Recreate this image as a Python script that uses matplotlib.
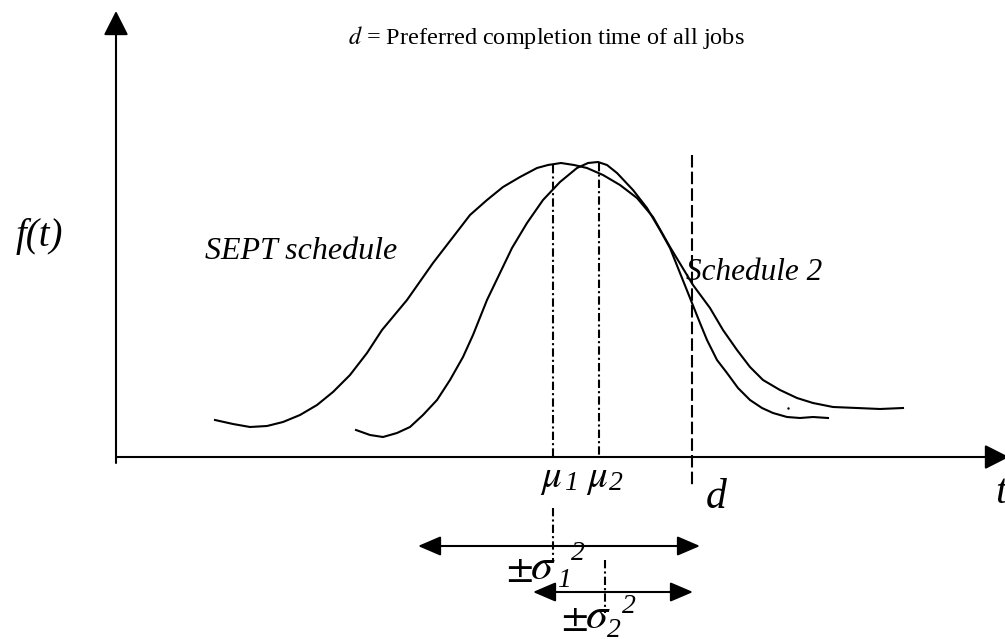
import matplotlib
matplotlib.use('Agg')
import matplotlib.pyplot as plt

plt.rcParams['font.family'] = ['Liberation Serif', 'DejaVu Serif']
plt.rcParams['mathtext.fontset'] = 'stix'

# Curves (pixel-like units, y grows downward)
sept_x = [215, 233, 250, 267, 283, 300, 317, 333, 350, 367, 382, 407, 433,
          460, 470, 487, 503, 520, 537, 548, 561, 574, 587, 603, 620, 637, 653,
          670, 693, 710, 723, 737, 750, 763, 780, 797, 813, 833, 857, 880, 903]
sept_y = [420, 424, 427, 426, 422, 415, 405, 392, 375, 353, 330, 300, 263,
          228, 215, 200, 187, 177, 168, 165, 163, 165, 168, 175, 185, 198, 217,
          247, 285, 308, 330, 350, 367, 380, 390, 398, 403, 407, 408, 409, 408]

sched2_x = [356, 370, 383, 397, 410, 423, 437, 450, 463, 473, 487, 512, 527,
            543, 560, 577, 588, 598, 607, 617, 633, 647, 660, 670, 692, 700,
            707, 717, 727, 738, 750, 762, 773, 787, 800, 813, 828]
sched2_y = [430, 435, 437, 433, 427, 415, 400, 380, 357, 335, 300, 248, 223,
            200, 182, 168, 163, 162, 165, 173, 190, 208, 230, 248, 303, 323,
            340, 360, 373, 388, 400, 408, 413, 417, 418, 417, 418]

# Marker positions
mu1, mu2, d_pos = 553, 599, 692
axis_x0, axis_y0 = 116, 457
sigma1_span = (418, 700)
sigma2_span = (533, 693)
sigma1_y, sigma2_y = 546, 592

fig = plt.figure(figsize=(10.05, 6.39), dpi=100)
ax = fig.add_axes([0, 0, 1, 1])
ax.set_xlim(0, 1005)
ax.set_ylim(639, 0)
ax.axis('off')

lw = 1.5
head = '-|>,head_length=0.75,head_width=0.38'
# axes with arrows
ax.annotate('', xy=(axis_x0, 11), xytext=(axis_x0, 463),
            arrowprops=dict(arrowstyle=head, mutation_scale=20, color='black',
                            lw=lw, shrinkA=0, shrinkB=0),
            annotation_clip=False)
ax.annotate('', xy=(1009, axis_y0), xytext=(axis_x0, axis_y0),
            arrowprops=dict(arrowstyle=head, mutation_scale=20, color='black',
                            lw=lw, shrinkA=0, shrinkB=0),
            annotation_clip=False)

# distributions
ax.plot(sept_x, sept_y, color='black', lw=lw, solid_joinstyle='round')
ax.plot(sched2_x, sched2_y, color='black', lw=lw, solid_joinstyle='round')
ax.plot([788], [408], 'k.', ms=1.5)

# vertical reference lines
dashdot = (0, (4, 1.5, 1, 1.5))
ax.plot([mu1, mu1], [165, axis_y0], color='black', lw=lw, ls=dashdot)
ax.plot([mu2, mu2], [163, axis_y0], color='black', lw=lw, ls=dashdot)
ax.plot([mu1, mu1], [508, 560], color='black', lw=lw, ls=dashdot)
ax.plot([605, 605], [560, 613], color='black', lw=lw, ls=dashdot)
ax.plot([d_pos, d_pos], [155, 487], color='black', lw=lw, ls=(0, (6, 2)))

# variance arrows
for (x0, x1), yy in [(sigma1_span, sigma1_y), (sigma2_span, sigma2_y)]:
    ax.annotate('', xy=(x1, yy), xytext=(x0, yy),
                arrowprops=dict(arrowstyle='<|-|>,head_length=0.7,head_width=0.3',
                                mutation_scale=20, color='black', lw=lw,
                                shrinkA=0, shrinkB=0))

# labels
ax.text(348, 44, r'$d$ = Preferred completion time of all jobs',
        fontsize=17.5, va='baseline')
ax.text(16, 246, 'f(t)', fontsize=28, style='italic', va='baseline')
ax.text(205, 259, 'SEPT schedule', fontsize=23, style='italic', va='baseline')
ax.text(686, 280, 'Schedule 2', fontsize=22.5, style='italic', va='baseline')

ax.text(540, 487, r'$\mu$', fontsize=28, va='baseline')
ax.text(564, 490, '1', fontsize=20, style='italic', va='baseline')
ax.text(586, 487, r'$\mu$', fontsize=28, va='baseline')
ax.text(609, 490, '2', fontsize=20, style='italic', va='baseline')
ax.text(706, 508, 'd', fontsize=30, style='italic', va='baseline')
ax.text(995, 503, 't', fontsize=30, style='italic', va='baseline')

ax.text(506, 579, r'$\pm$', fontsize=28, va='baseline')
ax.text(530, 579, r'$\sigma$', fontsize=32, va='baseline')
ax.text(557, 587, '1', fontsize=20, style='italic', va='baseline')
ax.text(571, 560, '2', fontsize=20, style='italic', va='baseline')
ax.text(561, 628, r'$\pm$', fontsize=28, va='baseline')
ax.text(585, 628, r'$\sigma$', fontsize=32, va='baseline')
ax.text(607, 637, '2', fontsize=20, style='italic', va='baseline')
ax.text(622, 613, '2', fontsize=20, style='italic', va='baseline')

fig.savefig('out.png', dpi=100)
